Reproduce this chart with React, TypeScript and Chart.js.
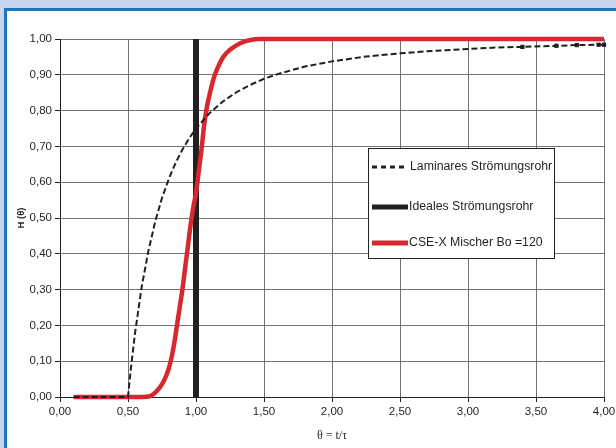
import React, { useEffect, useRef } from 'react';
import { Chart, registerables } from 'chart.js';
Chart.register(...registerables);

// ---- data ----
const lamX = [0.1, 0.5, 0.52, 0.55, 0.6, 0.65, 0.7, 0.75, 0.8, 0.85, 0.9, 0.95, 1.0, 1.1, 1.2, 1.3, 1.4, 1.5, 1.6, 1.8, 2.0, 2.25, 2.5, 2.75, 3.0, 3.2, 3.4, 3.65, 3.8, 3.96, 4.0];
const lamY = [0, 0, 0.075, 0.174, 0.306, 0.408, 0.49, 0.556, 0.609, 0.654, 0.691, 0.723, 0.75, 0.793, 0.826, 0.852, 0.872, 0.889, 0.902, 0.923, 0.9375, 0.951, 0.96, 0.967, 0.972, 0.976, 0.978, 0.981, 0.983, 0.984, 0.984];

const cseX = [0.1, 0.6, 0.66, 0.7, 0.74, 0.77, 0.8, 0.82, 0.84, 0.86, 0.88, 0.9, 0.92, 0.94, 0.96, 0.98, 1.0, 1.02, 1.04, 1.06, 1.08, 1.1, 1.13, 1.16, 1.2, 1.25, 1.3, 1.35, 1.4, 1.46, 1.5, 4.0];
const cseY = [0, 0, 0.002, 0.012, 0.03, 0.05, 0.08, 0.11, 0.15, 0.2, 0.25, 0.3, 0.36, 0.42, 0.48, 0.53, 0.57, 0.63, 0.69, 0.76, 0.81, 0.845, 0.89, 0.92, 0.95, 0.97, 0.983, 0.992, 0.997, 1.0, 1.0, 1.0];

const idealX = [1.0, 1.0];
const idealY = [0, 1];

const legendLabels = ['Laminares Strömungsrohr', 'Ideales Strömungsrohr', 'CSE-X Mischer Bo =120'];
const xTitle = 'θ = t/τ';
const yTitle = 'H (θ)';

const RED = '#d8282f';
const BLACK = '#231f20';
const GRID = '#727272';

const fmt = (v: number) => v.toFixed(2).replace('.', ',');

const pts = (xs: number[], ys: number[]) => xs.map((x, i) => ({ x, y: ys[i] }));

const legendPlugin = {
  id: 'customLegend',
  afterDraw(chart: any) {
    const ctx = chart.ctx as CanvasRenderingContext2D;
    ctx.save();
    const L = 368.5, T = 148.5, W = 186, H = 110;
    ctx.fillStyle = '#ffffff';
    ctx.fillRect(L, T, W, H);
    ctx.strokeStyle = BLACK;
    ctx.lineWidth = 1;
    ctx.strokeRect(L, T, W, H);
    ctx.font = '12.3px "Liberation Sans", Arial, sans-serif';
    ctx.fillStyle = BLACK;
    ctx.textBaseline = 'middle';
    ctx.textAlign = 'left';
    const rows = [167, 207, 243];
    // dashed
    ctx.strokeStyle = BLACK;
    ctx.lineWidth = 3;
    ctx.setLineDash([5, 4]);
    ctx.beginPath();
    ctx.moveTo(372, rows[0]);
    ctx.lineTo(404, rows[0]);
    ctx.stroke();
    ctx.setLineDash([]);
    // ideal
    ctx.lineWidth = 5;
    ctx.beginPath();
    ctx.moveTo(372, rows[1]);
    ctx.lineTo(408, rows[1]);
    ctx.stroke();
    // cse
    ctx.strokeStyle = RED;
    ctx.beginPath();
    ctx.moveTo(372, rows[2]);
    ctx.lineTo(408, rows[2]);
    ctx.stroke();
    ctx.fillText(legendLabels[0], 410, rows[0]);
    ctx.fillText(legendLabels[1], 409, rows[1]);
    ctx.fillText(legendLabels[2], 409, rows[2]);
    ctx.restore();
  },
};

export default function App() {
  const ref = useRef<HTMLCanvasElement>(null);
  useEffect(() => {
    if (!ref.current) return;
    const tickFont = { family: '"Liberation Sans", Arial, sans-serif', size: 11.5 };
    const chart = new Chart(ref.current, {
      type: 'line',
      data: {
        datasets: [
          {
            label: legendLabels[0],
            data: pts(lamX, lamY),
            borderColor: BLACK,
            backgroundColor: BLACK,
            borderWidth: 2,
            borderDash: [6, 3],
            pointRadius: (c: any) => (c.raw && c.raw.x >= 3.4 ? 3 : 0),
            pointStyle: 'rect',
            pointBorderWidth: 0,
            tension: 0,
            clip: false,
            order: 0,
          } as any,
          {
            label: legendLabels[2],
            data: pts(cseX, cseY),
            borderColor: RED,
            borderWidth: 4.5,
            pointRadius: 0,
            cubicInterpolationMode: 'monotone',
            clip: false,
            order: 1,
          } as any,
          {
            label: legendLabels[1],
            data: pts(idealX, idealY),
            borderColor: BLACK,
            borderWidth: 6,
            borderCapStyle: 'butt',
            pointRadius: 0,
            clip: false,
            order: 2,
          } as any,
        ],
      },
      options: {
        responsive: false,
        animation: false,
        parsing: false as any,
        layout: { padding: { top: 39, right: 12, left: 0, bottom: 0 } },
        plugins: { legend: { display: false }, tooltip: { enabled: false } },
        scales: {
          x: {
            type: 'linear',
            min: 0,
            max: 4,
            ticks: { stepSize: 0.5, callback: (v: any) => fmt(Number(v)), color: BLACK, font: tickFont, padding: 3, maxRotation: 0 },
            grid: { color: GRID, lineWidth: 1, tickLength: 5, tickColor: BLACK },
            border: { color: BLACK, width: 1 },
            title: { display: true, text: xTitle, color: BLACK, font: { family: '"Liberation Serif", "Times New Roman", serif', size: 12 }, padding: { top: 0, bottom: 5 } },
            afterFit: (s: any) => { s.height = 51; s.paddingLeft = 0; s.paddingRight = 0; },
          },
          y: {
            type: 'linear',
            min: 0,
            max: 1,
            ticks: { stepSize: 0.1, callback: (v: any) => fmt(Number(v)), color: BLACK, font: tickFont, padding: 3 },
            grid: { color: GRID, lineWidth: 1, tickLength: 5, tickColor: BLACK },
            border: { color: BLACK, width: 1 },
            title: { display: true, text: yTitle, color: BLACK, font: { family: '"Liberation Sans", Arial, sans-serif', size: 9.5, weight: 'bold' }, padding: { top: 15.5, bottom: 0 } },
            afterFit: (s: any) => { s.width = 60; s.paddingTop = 0; s.paddingBottom = 0; },
          },
        },
      },
      plugins: [legendPlugin],
    } as any);
    return () => chart.destroy();
  }, []);
  return (
    <div style={{ position: 'fixed', left: 0, top: 0, width: 616, height: 448, background: '#c6d4ed', overflow: 'hidden' }}>
      <div style={{ position: 'absolute', left: 4, top: 8, width: 640, height: 460, background: '#ffffff', borderLeft: '3px solid #1f75bb', borderTop: '3px solid #1f75bb' }} />
      <canvas ref={ref} width={616} height={448} style={{ position: 'absolute', left: 0, top: 0, width: 616, height: 448 }} />
    </div>
  );
}
